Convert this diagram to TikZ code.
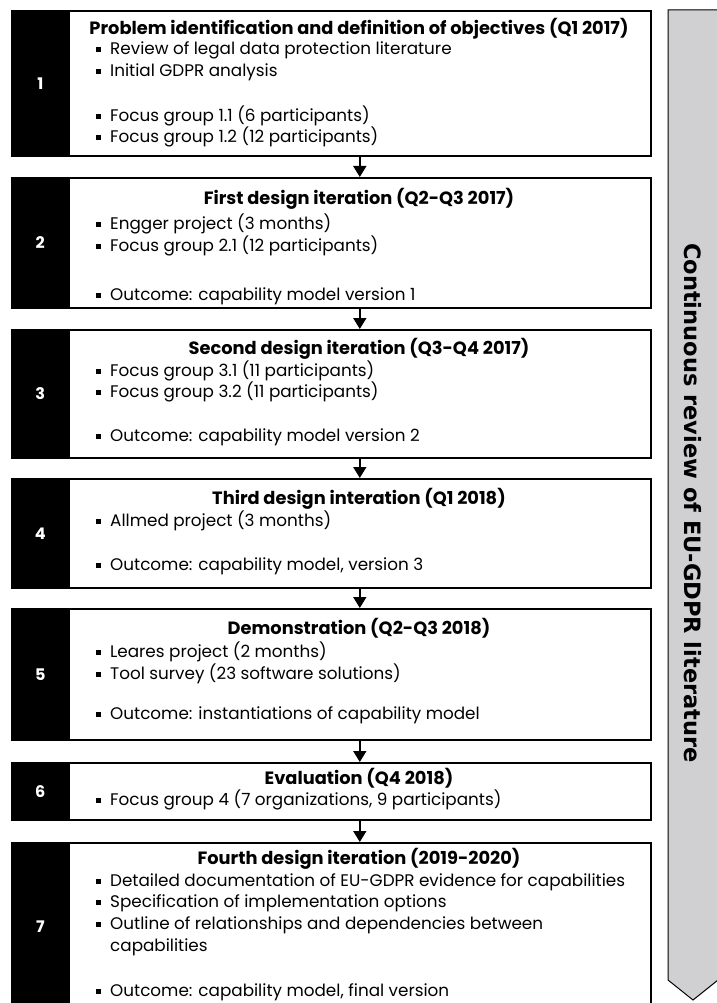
\documentclass[tikz,border=0pt]{standalone}
\usepackage{fontspec}
\setmainfont{Poppins}
\newfontfamily\sidefont{DejaVu Sans}
\usetikzlibrary{arrows.meta}
\definecolor{sidegray}{RGB}{208,207,209}
% small square bullet followed by the item text
\newcommand{\sqbul}{\makebox[14pt][l]{\rule[2.6pt]{4.8pt}{4.8pt}}}
\begin{document}
\begin{tikzpicture}[x=1pt,y=-1pt,
  stagebox/.style={draw=black, line width=1.6pt, fill=white, anchor=north west,
    minimum width=582pt, inner sep=0pt},
  numbox/.style={draw=black, line width=1.6pt, fill=black, anchor=north west,
    minimum width=57pt, inner sep=0pt, text=white,
    font=\bfseries\fontsize{16}{16}\selectfont},
  stagetitle/.style={anchor=center, inner sep=0pt, text height=12pt, text depth=3pt,
    font=\bfseries\fontsize{17.8}{17.8}\selectfont},
  item/.style={anchor=west, inner sep=0pt, text height=12pt, text depth=3pt,
    font=\fontsize{16.8}{16.8}\selectfont},
  flow/.style={line width=1.6pt, -{Triangle[width=13pt,length=11pt]}}
]
\useasboundingbox (0,0) rectangle (716,1003);
\fill[white] (0,0) rectangle (716,1003);

% side band running along all stages
\draw[line width=1pt, fill=sidegray] (668,10) -- (718,10) -- (718,980) -- (693,1000)
  -- (668,980) -- cycle;
\node[rotate=-90, inner sep=0pt, font=\sidefont\bfseries\fontsize{22.5}{22.5}\selectfont]
  (side) at (693,503) {Continuous review of EU-GDPR literature};

% stage boxes
\node[stagebox, minimum height=145pt] (s1) at (68,10) {};
\node[numbox, minimum height=145pt] (n1) at (11,10) {1};
\node[stagebox, minimum height=130pt] (s2) at (68,177) {};
\node[numbox, minimum height=130pt] (n2) at (11,177) {2};
\node[stagebox, minimum height=128pt] (s3) at (68,329) {};
\node[numbox, minimum height=128pt] (n3) at (11,329) {3};
\node[stagebox, minimum height=109pt] (s4) at (68,478) {};
\node[numbox, minimum height=109pt] (n4) at (11,478) {4};
\node[stagebox, minimum height=131pt] (s5) at (68,608) {};
\node[numbox, minimum height=131pt] (n5) at (11,608) {5};
\node[stagebox, minimum height=57pt] (s6) at (68,762) {};
\node[numbox, minimum height=57pt] (n6) at (11,762) {6};
\node[stagebox, minimum height=168pt] (s7) at (68,842) {};
\node[numbox, minimum height=168pt] (n7) at (11,842) {7};

% connectors between stages
\draw[flow] (s1.south) -- (s2.north);
\draw[flow] (s2.south) -- (s3.north);
\draw[flow] (s3.south) -- (s4.north);
\draw[flow] (s4.south) -- (s5.north);
\draw[flow] (s5.south) -- (s6.north);
\draw[flow] (s6.south) -- (s7.north);

% stage 1
\node[stagetitle] (t1) at (359,30) {Problem identification and definition of objectives (Q1 2017)};
\node[item] (i11) at (96,50) {\sqbul Review of legal data protection literature};
\node[item] (i12) at (96,72) {\sqbul Initial GDPR analysis};
\node[item] (i13) at (96,117) {\sqbul Focus group 1.1 (6 participants)};
\node[item] (i14) at (96,138) {\sqbul Focus group 1.2 (12 participants)};

% stage 2
\node[stagetitle] (t2) at (359,200) {First design iteration (Q2-Q3 2017)};
\node[item] (i21) at (96,225) {\sqbul Engger project (3 months)};
\node[item] (i22) at (96,247) {\sqbul Focus group 2.1 (12 participants)};
\node[item] (i23) at (96,296) {\sqbul Outcome: capability model version 1};

% stage 3
\node[stagetitle] (t3) at (359,350) {Second design iteration (Q3-Q4 2017)};
\node[item] (i31) at (96,372) {\sqbul Focus group 3.1 (11 participants)};
\node[item] (i32) at (96,393) {\sqbul Focus group 3.2 (11 participants)};
\node[item] (i33) at (96,437) {\sqbul Outcome: capability model version 2};

% stage 4
\node[stagetitle] (t4) at (359,500) {Third design interation (Q1 2018)};
\node[item] (i41) at (96,522) {\sqbul Allmed project (3 months)};
\node[item] (i42) at (96,566) {\sqbul Outcome: capability model, version 3};

% stage 5
\node[stagetitle] (t5) at (359,630) {Demonstration (Q2-Q3 2018)};
\node[item] (i51) at (96,653) {\sqbul Leares project (2 months)};
\node[item] (i52) at (96,675) {\sqbul Tool survey (23 software solutions)};
\node[item] (i53) at (96,715) {\sqbul Outcome: instantiations of capability model};

% stage 6
\node[stagetitle] (t6) at (359,780) {Evaluation (Q4 2018)};
\node[item] (i61) at (96,801) {\sqbul Focus group 4 (7 organizations, 9 participants)};

% stage 7
\node[stagetitle] (t7) at (359,860) {Fourth design iteration (2019-2020)};
\node[item] (i71) at (96,882) {\sqbul Detailed documentation of EU-GDPR evidence for capabilities};
\node[item] (i72) at (96,903) {\sqbul Specification of implementation options};
\node[item] (i73) at (96,925) {\sqbul Outline of relationships and dependencies between};
\node[item] (i74) at (110,947) {capabilities};
\node[item] (i75) at (96,992) {\sqbul Outcome: capability model, final version};
\end{tikzpicture}
\end{document}
